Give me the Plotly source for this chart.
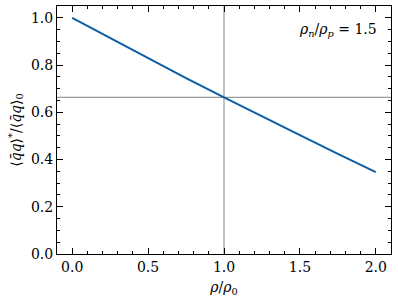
import plotly.graph_objects as go

# data
rho_ratio = [0.0, 0.25, 0.5, 0.75, 1.0, 1.25, 1.5, 1.75, 2.0]
condensate_ratio = [1.0, 0.914, 0.829, 0.745, 0.663, 0.582, 0.503, 0.424, 0.347]
ref_x = 1.0
ref_y = 0.663
annotation_text = "<i>ρ</i><sub><i>n</i></sub>/<i>ρ</i><sub><i>p</i></sub> = 1.5"
x_ticks = [0.0, 0.5, 1.0, 1.5, 2.0]
y_ticks = [0.0, 0.2, 0.4, 0.6, 0.8, 1.0]

FONT = "DejaVu Serif"

fig = go.Figure()
fig.add_trace(go.Scatter(x=rho_ratio, y=condensate_ratio, mode="lines",
                         line=dict(color="#0C5DA5", width=2), showlegend=False))

fig.add_vline(x=ref_x, line=dict(color="#9a9a9a", width=1.2), layer="below")
fig.add_hline(y=ref_y, line=dict(color="#9a9a9a", width=1.2), layer="below")

axis_common = dict(
    showgrid=False, zeroline=False, showline=True, linecolor="black", linewidth=1,
    mirror="allticks", ticks="inside", ticklen=6, tickwidth=1, tickcolor="black",
    tickfont=dict(family=FONT, size=14, color="black"),
)

fig.update_xaxes(range=[-0.1, 2.1], tickvals=x_ticks, ticktext=[f"{v:.1f}" for v in x_ticks],
                 minor=dict(dtick=0.1, tick0=0, ticks="inside", ticklen=3, tickcolor="black", tickwidth=1),
                 title=dict(text="<i>ρ</i>/<i>ρ</i><sub>0</sub>", font=dict(family=FONT, size=14, color="black"), standoff=8),
                 **axis_common)
fig.update_yaxes(range=[0, 1.05], tickvals=y_ticks, ticktext=[f"{v:.1f}" for v in y_ticks],
                 minor=dict(dtick=0.05, tick0=0, ticks="inside", ticklen=3, tickcolor="black", tickwidth=1),
                 title=dict(text="⟨<i>q̄q</i>⟩<sup>*</sup>/⟨<i>q̄q</i>⟩<sub>0</sub>", font=dict(family=FONT, size=14, color="black"), standoff=6),
                 **axis_common)

fig.add_annotation(text=annotation_text, xref="paper", yref="paper", x=0.965, y=0.905,
                   xanchor="right", yanchor="middle", showarrow=False,
                   font=dict(family=FONT, size=14, color="black"))

fig.update_layout(width=398, height=306, margin=dict(l=57, r=7, t=6, b=52),
                  font=dict(family=FONT, size=14, color="black"),
                  paper_bgcolor="white", plot_bgcolor="white")

fig.write_html("out.html", config={"displayModeBar": False},
               post_script="document.body.style.margin='0';document.body.style.overflow='hidden';")
